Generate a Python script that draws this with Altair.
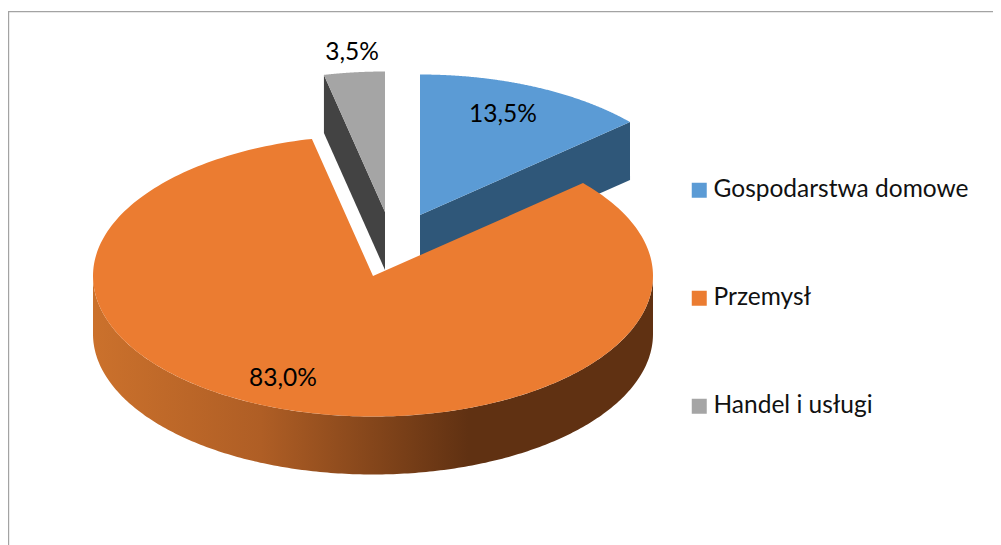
import numpy as np
import pandas as pd
import altair as alt

categories = ["Gospodarstwa domowe", "Przemysł", "Handel i usługi"]
shares = [13.5, 83.0, 3.5]
labels = ["13,5%", "83,0%", "3,5%"]
top_colors = ["#5B9BD5", "#EB7C31", "#A5A5A5"]
wall_colors = ["#2F5779", "#603112", "#434343"]

W, H = 985, 537
OX, OY = 8, 8            # page margin
RX, RY, DEPTH = 280, 140.5, 58
centers = {"Gospodarstwa domowe": (420, 215), "Przemysł": (373, 276), "Handel i usługi": (385, 212)}
label_at = {"Gospodarstwa domowe": (503, 115), "Przemysł": (283, 379), "Handel i usługi": (352, 53)}

ends = np.cumsum(shares) * 3.6
starts = ends - np.array(shares) * 3.6
span = {c: (s, e) for c, s, e in zip(categories, starts, ends)}


def rim(cat, a0, a1, dy=0):
    cx, cy = centers[cat]
    t = np.radians(np.linspace(a0, a1, 240))
    return cx + RX * np.sin(t) - OX, cy - RY * np.cos(t) + dy - OY


def frame(xs, ys, cat):
    return pd.DataFrame({"x": xs, "y": ys, "i": np.arange(len(xs)), "cat": cat})


def top(cat):
    a0, a1 = span[cat]
    cx, cy = centers[cat]
    xs, ys = rim(cat, a0, a1)
    return frame(np.r_[cx - OX, xs, cx - OX], np.r_[cy - OY, ys, cy - OY], cat)


def outer_wall(cat, a0, a1):
    x1, y1 = rim(cat, a0, a1)
    x2, y2 = rim(cat, a0, a1, DEPTH)
    return frame(np.r_[x1, x2[::-1], x1[0]], np.r_[y1, y2[::-1], y1[0]], cat)


def cut_wall(cat, angle):
    cx, cy = centers[cat]
    x, y = rim(cat, angle, angle)
    x, y = x[0], y[0]
    a, b = cx - OX, cy - OY
    return frame([a, x, x, a, a], [b, y, y + DEPTH, b + DEPTH, b], cat)


X = alt.X("x:Q", scale=alt.Scale(domain=[0, W], range=[0, W]), axis=None)
Y = alt.Y("y:Q", scale=alt.Scale(domain=[0, H], range=[0, H]), axis=None)


def poly(df, fill):
    return alt.Chart(df).mark_line(fill=fill, stroke=None, strokeWidth=0, clip=False, interpolate="linear").encode(
        x=X, y=Y, order="i:Q"
    )


orange_grad = alt.Gradient(
    gradient="linear", x1=0, x2=1, y1=0, y2=0,
    stops=[
        alt.GradientStop(offset=0, color="#CB712C"),
        alt.GradientStop(offset=0.30, color="#AF5E25"),
        alt.GradientStop(offset=0.67, color="#603112"),
        alt.GradientStop(offset=1, color="#603112"),
    ],
)

blue, orange, grey = categories
layers = [
    alt.Chart(pd.DataFrame({"a": [0]})).mark_rule(color="#A3A3A3", strokeWidth=1.2).encode(
        x=alt.value(0.6), x2=alt.value(0.6), y=alt.value(3.6), y2=alt.value(H)
    ),
    alt.Chart(pd.DataFrame({"a": [0]})).mark_rule(color="#A3A3A3", strokeWidth=1.2).encode(
        x=alt.value(0), x2=alt.value(W), y=alt.value(3.6)
    ),
    poly(cut_wall(blue, span[blue][1]), wall_colors[0]),
    poly(top(blue), top_colors[0]),
    poly(cut_wall(grey, span[grey][0]), wall_colors[2]),
    poly(top(grey), top_colors[2]),
    poly(outer_wall(orange, 90, 270), orange_grad),
    poly(top(orange), top_colors[1]),
]

legend_df = pd.DataFrame({"cat": categories, "x": [373 - OX] * 3, "y": [276 - OY] * 3})
layers.append(
    alt.Chart(legend_df).mark_square(size=0, opacity=0).encode(
        x=X, y=Y,
        color=alt.Color(
            "cat:N",
            scale=alt.Scale(domain=categories, range=top_colors),
            legend=alt.Legend(
                title=None, orient="none", legendX=679, legendY=170,
                symbolType="square", symbolSize=225, symbolOpacity=1, symbolStrokeWidth=0,
                labelFont="Lato", labelFontSize=24.5, labelColor="#111111",
                labelLimit=400, rowPadding=83, labelOffset=2, symbolOffset=0, padding=0,
            ),
        ),
    )
)

label_df = pd.DataFrame({
    "x": [label_at[c][0] - OX for c in categories],
    "y": [label_at[c][1] - OY for c in categories],
    "t": labels,
})
layers.append(
    alt.Chart(label_df).mark_text(font="Lato", fontSize=24.5, color="#000000", align="center", baseline="middle").encode(
        x=X, y=Y, text="t:N"
    )
)

chart = alt.layer(*layers).properties(width=W, height=H, padding=0, autosize=alt.AutoSizeParams(type="none")).configure_view(stroke=None)
chart.save("out.html", embed_options={"renderer": "svg", "actions": False})
